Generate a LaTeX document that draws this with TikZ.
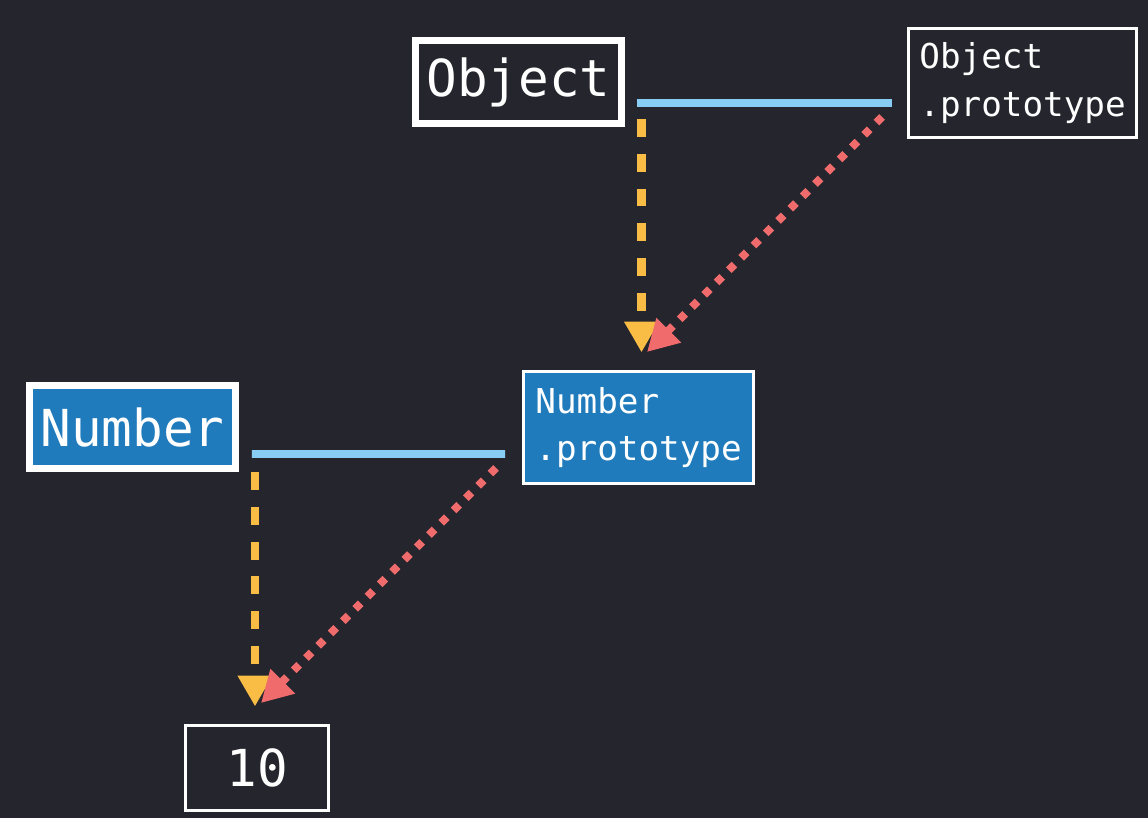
\documentclass[tikz,border=0pt]{standalone}
\usepackage{fontspec}
\setmonofont{DejaVu Sans Mono}
\usetikzlibrary{arrows.meta}
\definecolor{bgdark}{HTML}{25252E}
\definecolor{protoblue}{HTML}{1F7BBC}
\definecolor{linkblue}{HTML}{88CDF3}
\definecolor{newyellow}{HTML}{F9BD45}
\definecolor{protored}{HTML}{F06B6B}
\begin{document}
\begin{tikzpicture}[x=0.02cm, y=-0.02cm,
    every node/.style={text=white, inner sep=0pt},
    ctor/.style={draw=white, line width=4pt, minimum width=4.12cm, minimum height=1.66cm, font=\ttfamily\fontsize{29}{34}\selectfont},
    proto/.style={draw=white, line width=1.7pt, align=left, font=\ttfamily\fontsize{19.5}{27.2}\selectfont},
    link/.style={draw=linkblue, line width=4.5pt},
    newarrow/.style={draw=newyellow, line width=5.1pt, dash pattern=on 10.2pt off 9.6pt, -{Triangle[width=18.7pt, length=17.6pt, fill=newyellow]}, shorten >=10pt},
    protoarrow/.style={draw=protored, line width=4.5pt, dash pattern=on 4.5pt off 5.4pt, -{Triangle[width=18.7pt, length=17.6pt, fill=protored]}}]
    \fill[bgdark] (0,0) rectangle (1148,818);
    \useasboundingbox (0,0) rectangle (1148,818);

    % Nodes
    \node[ctor, fill=bgdark] at (518.5, 82) (obj) {Object};
    \node[proto, minimum width=4.56cm, minimum height=2.18cm] at (1022.5, 83) (oproto) {Object\\.prototype};
    \node[ctor, fill=protoblue] at (132.5, 427) (num) {Number};
    \node[proto, fill=protoblue, minimum width=4.6cm, minimum height=2.24cm] at (638.5, 427.5) (np) {Number\\.prototype};
    \node[proto, font=\ttfamily\fontsize{29}{34}\selectfont, minimum width=2.86cm, minimum height=1.7cm] at (257, 768) (ten) {10};

    % Links
    \coordinate (objlink) at ([shift={(12,21)}]obj.east);
    \coordinate (objdown) at ([shift={(4.5,16)}]objlink);
    \coordinate (numlink) at ([shift={(13,27)}]num.east);
    \coordinate (numdown) at ([shift={(3,18)}]numlink);

    \draw[link] (objlink) -- ([shift={(-15,20)}]oproto.west);
    \draw[link] (numlink) -- ([shift={(-17,26.5)}]np.west);

    % Arrows
    \draw[newarrow] (objdown) -- (objdown |- np.north);
    \draw[protoarrow] ([shift={(-25,-22)}]oproto.south west) -- ([shift={(8.5,-18)}]np.north);

    \draw[newarrow] (numdown) -- (numdown |- ten.north);
    \draw[protoarrow] ([shift={(-26,-17)}]np.south west) -- ([shift={(4,-21)}]ten.north);
\end{tikzpicture}
\end{document}
